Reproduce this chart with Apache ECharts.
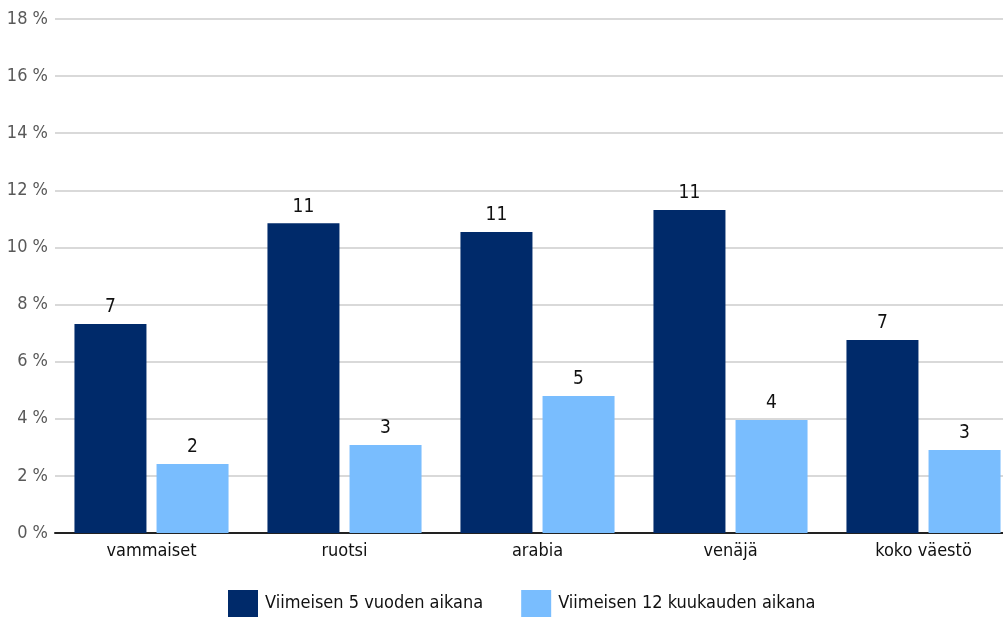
<!DOCTYPE html>
<html><head><meta charset="utf-8">
<script src="https://cdn.jsdelivr.net/npm/echarts@6/dist/echarts.min.js"></script>
<style>html,body{margin:0;padding:0;background:#fff;overflow:hidden;width:1003px;height:618px}#c{width:1020px;height:618px}</style>
</head><body><div id="c"></div>
<script>
const categories = ['vammaiset', 'ruotsi', 'arabia', 'venäjä', 'koko väestö'];
const seriesNames = ['Viimeisen 5 vuoden aikana', 'Viimeisen 12 kuukauden aikana'];
const fiveYears = [7.32, 10.85, 10.54, 11.31, 6.76];
const twelveMonths = [2.42, 3.08, 4.80, 3.96, 2.91];
const FONT = '"Liberation Sans Narrow","DejaVu Sans Condensed",sans-serif';
const chart = echarts.init(document.getElementById('c'));
const lbl = {show: true, position: 'top', distance: 7, fontFamily: FONT, fontSize: 19, color: '#111',
  formatter: p => Math.round(p.value)};
chart.setOption({
  animation: false,
  grid: {left: 55, right: 0, top: 19, bottom: 85, containLabel: false},
  legend: {top: 590, left: 228, padding: 0, itemWidth: 30, itemHeight: 27, itemGap: 38,
    textStyle: {fontFamily: FONT, fontSize: 18, color: '#111', padding: [0, 0, 0, 2]},
    data: seriesNames, icon: 'rect'},
  xAxis: {type: 'category', data: categories,
    axisLine: {lineStyle: {color: '#222', width: 2}}, axisTick: {show: false},
    axisLabel: {fontFamily: FONT, fontSize: 18, color: '#111', margin: 9}},
  yAxis: {type: 'value', min: 0, max: 18, interval: 2,
    axisLabel: {formatter: v => v + ' %', fontFamily: FONT, fontSize: 18, color: '#595959', margin: 7},
    splitLine: {lineStyle: {color: '#d9d9d9', width: 2}}, axisLine: {show: false}},
  series: [
    {name: seriesNames[0], type: 'bar', data: fiveYears, barWidth: 72, barGap: '14%',
      itemStyle: {color: '#002a6a'}, label: lbl},
    {name: seriesNames[1], type: 'bar', data: twelveMonths, barWidth: 72, barGap: '14%',
      itemStyle: {color: '#79bdfe'}, label: lbl}
  ]
});
</script></body></html>
